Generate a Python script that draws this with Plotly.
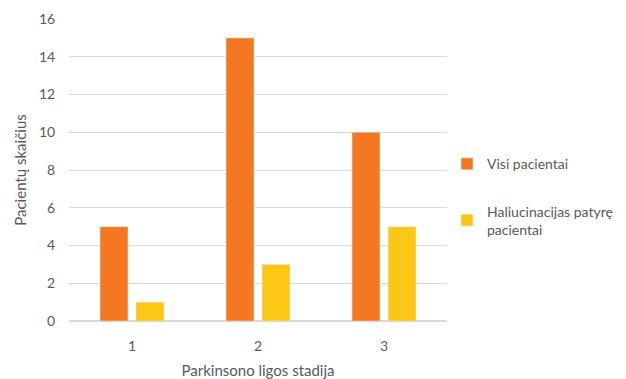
import plotly.graph_objects as go

stages = ["1", "2", "3"]
visi = [5, 15, 10]
haliucinacijos = [1, 3, 5]
y_ticks = [0, 2, 4, 6, 8, 10, 12, 14, 16]

font_family = "Lato, 'Open Sans', sans-serif"
text_color = "#595959"

fig = go.Figure()
fig.add_trace(go.Bar(
    x=stages, y=visi, name="Visi pacientai",
    marker=dict(color="#F47822"), legendgroup="a",
))
fig.add_trace(go.Bar(
    x=stages, y=haliucinacijos, name="Haliucinacijas patyrę<br>pacientai",
    marker=dict(color="#FDC716"), legendgroup="b",
))

fig.update_layout(
    width=626, height=379,
    margin=dict(l=69, r=179, t=19, b=58, autoexpand=False),
    paper_bgcolor="white", plot_bgcolor="white",
    barmode="group", bargap=0.4286, bargroupgap=0.222,
    font=dict(family=font_family, color=text_color, size=14),
    legend=dict(
        x=1.0, xanchor="left", y=0.572, yanchor="top",
        font=dict(size=14, color=text_color),
        tracegroupgap=26, itemwidth=30,
    ),
    xaxis=dict(
        title=dict(text="Parkinsono ligos stadija", font=dict(size=15), standoff=14),
        showgrid=False, showline=True, linecolor="#d9d9d9", linewidth=1,
        ticks="outside", ticklen=12, tickcolor="rgba(0,0,0,0)",
        tickfont=dict(size=14),
    ),
    yaxis=dict(
        title=dict(text="Pacientų skaičius", font=dict(size=15), standoff=8),
        range=[0, 16], tickvals=y_ticks,
        showgrid=True, gridcolor="#d9d9d9", gridwidth=1,
        zeroline=True, zerolinecolor="#d9d9d9",
        ticks="outside", ticklen=10, tickcolor="rgba(0,0,0,0)",
        tickfont=dict(size=14),
    ),
)

fig.write_html("out.html")
